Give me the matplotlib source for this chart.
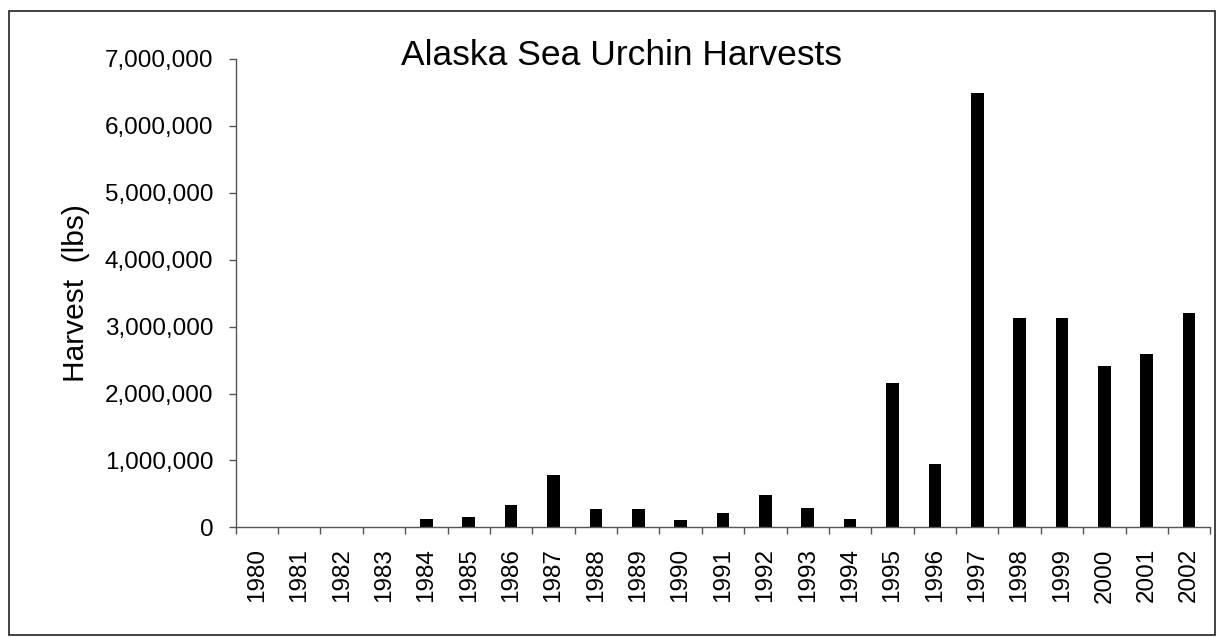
import numpy as np
import matplotlib
matplotlib.use("Agg")
import matplotlib.pyplot as plt
from matplotlib.ticker import FuncFormatter, FixedLocator
from matplotlib.patches import Rectangle

plt.rcParams['font.family'] = ['Liberation Sans', 'DejaVu Sans']

# Harvest data (lbs)
years = [str(y) for y in range(1980, 2003)]
harvest = [0, 0, 0, 0, 124000, 150000, 339000, 777000, 269000, 269000,
           105000, 219000, 478000, 294000, 124000, 2152000, 942000,
           6487000, 3129000, 3129000, 2407000, 2596000, 3199000]
yticks = [0, 1000000, 2000000, 3000000, 4000000, 5000000, 6000000, 7000000]

fig = plt.figure(figsize=(12.25, 6.37), dpi=100)
ax = fig.add_axes([0.1924, 0.1722, 0.7956, 0.7352])

x = np.arange(len(years))
ax.bar(x, harvest, width=0.3, color='black', edgecolor='none')

ax.set_xlim(-0.5, len(years) - 0.5)
ax.set_ylim(0, 7000000)

# labels at bar centres, tick marks between categories
ax.set_xticks(x)
ax.set_xticklabels(years, rotation=90, fontsize=17.5)
ax.tick_params(axis='x', which='major', length=0, pad=15)
ax.xaxis.set_minor_locator(FixedLocator(np.arange(-0.5, len(years), 1.0)))
ax.tick_params(axis='x', which='minor', length=5, width=1, color='#555555', direction='out')

ax.set_yticks(yticks)
ax.yaxis.set_major_formatter(FuncFormatter(lambda v, p: f"{int(v):,}"))
ax.tick_params(axis='y', length=5, width=1, color='#555555', pad=11, labelsize=17.5)

for side in ['top', 'right']:
    ax.spines[side].set_visible(False)
for side in ['left', 'bottom']:
    ax.spines[side].set_color('#555555')
    ax.spines[side].set_linewidth(1)

ax.set_ylabel("Harvest  (lbs)", fontsize=21.5, labelpad=11)

fig.text(621.7 / 1225, 1 - 65 / 637, "Alaska Sea Urchin Harvests",
         fontsize=25.5, ha='center', va='baseline')

# outer border round the whole chart
fig.patches.append(Rectangle((9 / 1225, 2 / 637), 1206 / 1225, 624 / 637,
                             transform=fig.transFigure, fill=False,
                             edgecolor='#222222', linewidth=1.2))

fig.savefig("out.png", dpi=100)
